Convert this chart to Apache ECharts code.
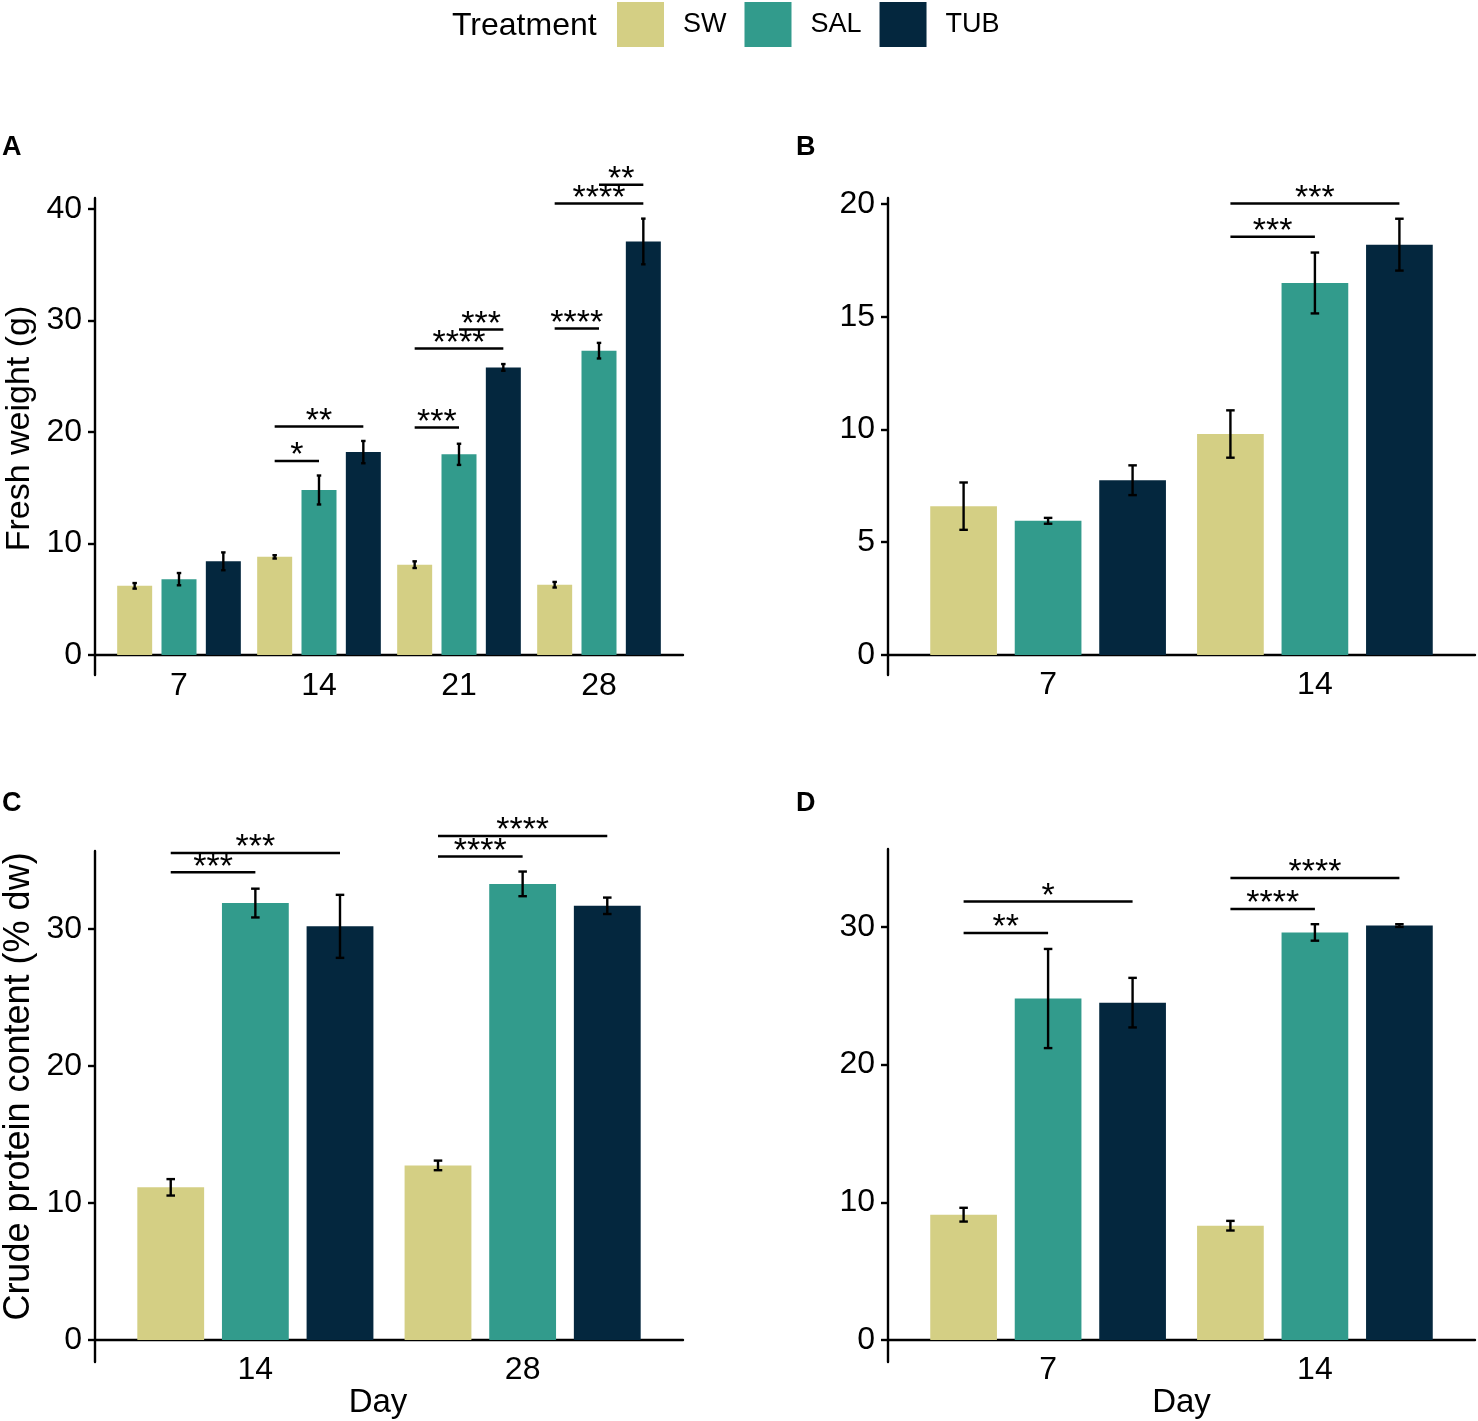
<!DOCTYPE html>
<html><head><meta charset="utf-8">
<script src="https://cdn.jsdelivr.net/npm/echarts@6/dist/echarts.min.js"></script>
<style>html,body{margin:0;padding:0;background:#fff}#c{width:1478px;height:1421px}</style>
</head><body><div id="c"></div>
<script>
// ---------- data ----------
const treatments = ['SW', 'SAL', 'TUB'];
const palette = ['#D4CF84', '#329B8C', '#04273E'];

// Panel A: fresh weight (g), days 7-28
const daysA = ['7', '14', '21', '28'];
const freshA_SW = [6.2, 8.8, 8.1, 6.3];
const freshA_SAL = [6.8, 14.8, 18.0, 27.3];
const freshA_TUB = [8.4, 18.2, 25.8, 37.1];
const freshA_SW_err = [0.25, 0.15, 0.3, 0.25];
const freshA_SAL_err = [0.55, 1.3, 0.95, 0.7];
const freshA_TUB_err = [0.8, 1.0, 0.3, 2.05];
const sigA = [[2, 0, 1, 17.4, '*'], [2, 0, 2, 20.5, '**'], [3, 0, 1, 20.4, '***'], [3, 0, 2, 27.5, '****'],
              [3, 1, 2, 29.2, '***'], [4, 0, 1, 29.3, '****'], [4, 0, 2, 40.5, '****'], [4, 1, 2, 42.2, '**']];
const yTicksA = [0, 10, 20, 30, 40];

// Panel B: fresh weight (g), days 7-14
const daysB = ['7', '14'];
const freshB_SW = [6.6, 9.8];
const freshB_SAL = [5.95, 16.5];
const freshB_TUB = [7.75, 18.2];
const freshB_SW_err = [1.05, 1.05];
const freshB_SAL_err = [0.13, 1.35];
const freshB_TUB_err = [0.66, 1.15];
const sigB = [[2, 0, 1, 18.55, '***'], [2, 0, 2, 20.03, '***']];
const yTicksB = [0, 5, 10, 15, 20];

// Panel C: crude protein (% dw), days 14 & 28
const daysC = ['14', '28'];
const protC_SW = [11.15, 12.75];
const protC_SAL = [31.9, 33.3];
const protC_TUB = [30.2, 31.7];
const protC_SW_err = [0.6, 0.35];
const protC_SAL_err = [1.05, 0.9];
const protC_TUB_err = [2.3, 0.6];
const sigC = [[1, 0, 1, 34.15, '***'], [1, 0, 2, 35.55, '***'], [2, 0, 1, 35.3, '****'], [2, 0, 2, 36.8, '****']];
const yTicksC = [0, 10, 20, 30];

// Panel D: crude protein (% dw), days 7 & 14
const daysD = ['7', '14'];
const protD_SW = [9.1, 8.3];
const protD_SAL = [24.8, 29.6];
const protD_TUB = [24.5, 30.1];
const protD_SW_err = [0.5, 0.35];
const protD_SAL_err = [3.6, 0.6];
const protD_TUB_err = [1.8, 0.1];
const sigD = [[1, 0, 1, 29.55, '**'], [1, 0, 2, 31.85, '*'], [2, 0, 1, 31.3, '****'], [2, 0, 2, 33.55, '****']];
const yTicksD = [0, 10, 20, 30];

// ---------- layout / style ----------
const FONT = '"Liberation Sans", Arial, Helvetica, sans-serif';
const DODGE = 0.95 / 3;   // spacing between dodged bars (category units)
const CAP = 0.032;        // error-bar cap width (category units)
const LW = 2.4;

const panels = [
  {days: daysA, vals: [freshA_SW, freshA_SAL, freshA_TUB], errs: [freshA_SW_err, freshA_SAL_err, freshA_TUB_err], sig: sigA, ticks: yTicksA,
   grid: {left: 95, top: 198, width: 588, height: 477}, ymin: -1.8, ymax: 41.0,
   yname: 'Fresh weight (g)', ynameSize: 34, ynamePad: [0, 0, 0, 16], xname: '', xnamePad: [0, 0, 0, 0], lm: -5},
  {days: daysB, vals: [freshB_SW, freshB_SAL, freshB_TUB], errs: [freshB_SW_err, freshB_SAL_err, freshB_TUB_err], sig: sigB, ticks: yTicksB,
   grid: {left: 888, top: 198, width: 587, height: 477}, ymin: -0.89, ymax: 20.27,
   yname: '', ynameSize: 34, ynamePad: [0, 0, 0, 0], xname: '', xnamePad: [0, 0, 0, 0], lm: -6},
  {days: daysC, vals: [protC_SW, protC_SAL, protC_TUB], errs: [protC_SW_err, protC_SAL_err, protC_TUB_err], sig: sigC, ticks: yTicksC,
   grid: {left: 95, top: 851, width: 588, height: 511}, ymin: -1.6, ymax: 35.7,
   yname: 'Crude protein content (% dw)', ynameSize: 36, ynamePad: [0, 0, 0, 40], xname: 'Day', xnamePad: [0, 22, 0, 0], lm: -8},
  {days: daysD, vals: [protD_SW, protD_SAL, protD_TUB], errs: [protD_SW_err, protD_SAL_err, protD_TUB_err], sig: sigD, ticks: yTicksD,
   grid: {left: 888, top: 849, width: 587, height: 513}, ymin: -1.6, ymax: 35.66,
   yname: '', ynameSize: 34, ynamePad: [0, 0, 0, 0], xname: 'Day', xnamePad: [0, 0, 0, 0], lm: -8}
];

const grids = [], xAxes = [], yAxes = [], series = [];

function errRender(params, api) {
  const x = api.value(0), y = api.value(1), e = api.value(2);
  const top = api.coord([x, y + e]), bot = api.coord([x, y - e]);
  const l = api.coord([x - CAP / 2, y])[0], r = api.coord([x + CAP / 2, y])[0];
  const style = {stroke: '#000', lineWidth: LW};
  return {type: 'group', children: [
    {type: 'line', shape: {x1: top[0], y1: top[1], x2: bot[0], y2: bot[1]}, style},
    {type: 'line', shape: {x1: l, y1: top[1], x2: r, y2: top[1]}, style},
    {type: 'line', shape: {x1: l, y1: bot[1], x2: r, y2: bot[1]}, style}
  ]};
}

function makeSigRender(rows) {
  return function (params, api) {
    const x1 = api.value(0), x2 = api.value(1), y = api.value(2);
    const p1 = api.coord([x1, y]), p2 = api.coord([x2, y]);
    return {type: 'group', children: [
      {type: 'line', shape: {x1: p1[0], y1: p1[1], x2: p2[0], y2: p2[1]}, style: {stroke: '#000', lineWidth: 2.5}},
      {type: 'text', x: (p1[0] + p2[0]) / 2, y: p1[1] - 5,
       style: {text: rows[params.dataIndex][4], fontSize: 34, fontFamily: FONT, fill: '#000', align: 'center', verticalAlign: 'middle'}}
    ]};
  };
}

panels.forEach((p, gi) => {
  grids.push(Object.assign({containLabel: false, outerBoundsMode: 'none'}, p.grid));
  const n = p.days.length;
  xAxes.push({
    type: 'value', gridIndex: gi, min: 0.4, max: n + 0.6,
    name: p.xname, nameLocation: 'middle', nameGap: 24,
    nameTextStyle: {fontSize: 33, fontFamily: FONT, color: '#000', padding: p.xnamePad},
    axisLine: {show: true, onZero: true, lineStyle: {color: '#000', width: LW}},
    axisTick: {show: false},
    splitLine: {show: false},
    axisLabel: {customValues: p.days.map((d, i) => i + 1), formatter: v => p.days[Math.round(v) - 1],
                fontSize: 32, fontFamily: FONT, color: '#000', margin: p.lm}
  });
  yAxes.push({
    type: 'value', gridIndex: gi, min: p.ymin, max: p.ymax,
    name: p.yname, nameLocation: 'middle', nameGap: 58,
    nameTextStyle: {fontSize: p.ynameSize, fontFamily: FONT, color: '#000', padding: p.ynamePad},
    axisLine: {show: true, onZero: false, lineStyle: {color: '#000', width: LW}},
    axisTick: {show: true, length: 7, customValues: p.ticks, lineStyle: {color: '#000', width: LW}},
    splitLine: {show: false},
    axisLabel: {customValues: p.ticks, fontSize: 32, fontFamily: FONT, color: '#000', margin: 13}
  });
  treatments.forEach((t, k) => {
    series.push({
      name: t, type: 'bar', xAxisIndex: gi, yAxisIndex: gi,
      barWidth: '25%', barGap: ((DODGE - 0.25) / 0.25 * 100).toFixed(2) + '%',
      itemStyle: {color: palette[k]},
      data: p.vals[k].map((v, i) => [i + 1, v])
    });
  });
  const errData = [];
  treatments.forEach((t, k) => {
    p.vals[k].forEach((v, i) => errData.push([i + 1 + (k - 1) * DODGE, v, p.errs[k][i]]));
  });
  series.push({type: 'custom', xAxisIndex: gi, yAxisIndex: gi, z: 5, renderItem: errRender,
               encode: {x: 0, y: 1}, data: errData, silent: true});
  series.push({type: 'custom', xAxisIndex: gi, yAxisIndex: gi, z: 5, clip: false,
               renderItem: makeSigRender(p.sig), encode: {x: [0, 1], y: 2}, silent: true,
               data: p.sig.map(s => [s[0] + (s[1] - 1) * DODGE, s[0] + (s[2] - 1) * DODGE, s[3]])});
});

const letter = (txt, left, top) => ({text: txt, left, top, padding: 0,
  textStyle: {fontSize: 27, fontWeight: 'bold', fontFamily: FONT, color: '#000'}});

const option = {
  backgroundColor: '#fff',
  animation: false,
  title: [
    {text: 'Treatment', left: 452, top: 10, padding: 0, textStyle: {fontSize: 32, fontWeight: 'normal', fontFamily: FONT, color: '#000'}},
    letter('A', 2, 134), letter('B', 796, 134), letter('C', 2, 790), letter('D', 796, 790)
  ],
  legend: {
    data: treatments, left: 617, top: 2, padding: 0, icon: 'rect',
    itemWidth: 47, itemHeight: 45, itemGap: 18,
    textStyle: {fontSize: 27, fontFamily: FONT, color: '#000', padding: [5, 0, 0, 14]}
  },
  grid: grids, xAxis: xAxes, yAxis: yAxes, series
};

const chart = echarts.init(document.getElementById('c'), null, {renderer: 'canvas'});
chart.setOption(option);
</script></body></html>
